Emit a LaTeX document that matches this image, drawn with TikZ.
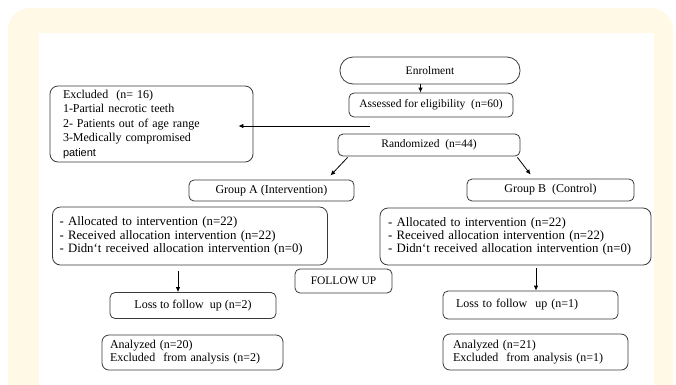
\documentclass[tikz,border=0pt]{standalone}
\usepackage{fontspec}
\setmainfont{Liberation Serif}
\newfontfamily\sansf{Liberation Sans}
\usetikzlibrary{arrows.meta}
\definecolor{cream}{HTML}{FFF9E6}
\definecolor{edge}{HTML}{3A3A3A}
\begin{document}
\begin{tikzpicture}[x=1pt,y=-1pt,
  box/.style={draw=edge, line width=0.8pt, rounded corners=5pt, inner sep=0pt,
    font=\fontsize{11.5}{13}\selectfont, align=center},
  arr/.style={draw=black, line width=0.8pt, -{Latex[length=5pt,width=4.5pt]}}]
\useasboundingbox (0,0) rectangle (676,384);
\clip (0,0) rectangle (676,384);
\fill[white] (0,0) rectangle (676,384);
\fill[cream, rounded corners=22pt] (8,8) rectangle (673,420);
\fill[white] (39,33) rectangle (654,400);

\node[box, rounded corners=13pt, minimum width=180pt, minimum height=27pt] (enrol) at (430,70.5) {Enrolment};
\node[box, minimum width=164pt, minimum height=24pt] (assess) at (431,105) {Assessed for eligibility\ \ (n=60)};
\node[box, rounded corners=8pt, text width=177pt, inner xsep=13pt, align=left, minimum height=76pt,
  font=\fontsize{12}{14.5}\selectfont] (excl) at (151.5,124)
  {Excluded\ \ (n= 16)\\1-Partial\ necrotic teeth\\2- Patients out of age range\\3-Medically\ compromised\\{\sansf\fontsize{11}{14.5}\selectfont patient}};
\node[box, minimum width=182pt, minimum height=22pt] (rand) at (429,145) {Randomized\ \ (n=44)};
\node[box, font=\fontsize{12}{13}\selectfont, minimum width=165pt, minimum height=21pt] (ga) at (271.5,190.5) {Group\ A (Intervention)};
\node[box, font=\fontsize{12}{13}\selectfont, minimum width=167pt, minimum height=22pt] (gb) at (550.5,190) {Group\ B\ \ (Control)};
\node[box, rounded corners=8pt, text width=261pt, inner xsep=7pt, align=left, minimum height=58pt,
  font=\fontsize{12.8}{13.3}\selectfont] (alla) at (190,236)
  {- Allocated to intervention (n=22)\\- Received allocation intervention (n=22)\\- Didn`t received allocation intervention (n=0)\\[2pt]};
\node[box, rounded corners=8pt, text width=255pt, inner xsep=8pt, align=left, minimum height=57pt,
  font=\fontsize{12.8}{13.3}\selectfont] (allb) at (515.5,236.5)
  {- Allocated to intervention (n=22)\\- Received allocation intervention (n=22)\\- Didn`t received allocation intervention (n=0)\\[2pt]};
\node[box, minimum width=97pt, minimum height=24pt] (fu) at (343.5,281) {FOLLOW UP};
\node[box, font=\fontsize{12}{13}\selectfont, minimum width=166pt, minimum height=26pt] (la) at (193,305.5) {Loss to follow\ \ up (n=2)};
\node[box, font=\fontsize{12}{13}\selectfont, text width=149pt, inner xsep=13pt, align=left, minimum height=28pt] (lb) at (530.5,305) {Loss to follow\ \ up (n=1)};
\node[box, rounded corners=7pt, text width=165pt, inner xsep=8pt, align=left, minimum height=35pt,
  font=\fontsize{12}{13}\selectfont] (ana) at (192.5,352.5) {Analyzed (n=20)\\Excluded\ \ from analysis (n=2)};
\node[box, rounded corners=7pt, text width=165pt, inner xsep=10pt, align=left, minimum height=36pt,
  font=\fontsize{12}{13}\selectfont] (anb) at (535.5,352) {Analyzed (n=21)\\Excluded\ \ from analysis (n=1)};

\draw[arr] ([xshift=-9.5pt]enrol.south) -- ([xshift=-9.5pt]assess.north -| enrol.south);
\coordinate (hs) at (370,126);
\coordinate (ht) at ([xshift=-15pt]excl.east |- hs);
\draw[arr] (hs) -- (ht);
\draw[arr] ([xshift=10pt,yshift=-1pt]rand.south west) -- ([xshift=-24pt,yshift=4pt]ga.north east);
\draw[arr] ([xshift=-3pt,yshift=-1pt]rand.south east) -- ([xshift=64pt,yshift=4pt]gb.north west);
\coordinate (aa) at ([xshift=-12pt,yshift=-6pt]alla.south);
\draw[arr] (aa) -- (aa |- la.north);
\coordinate (bb) at ([xshift=20.5pt,yshift=-3pt]allb.south);
\draw[arr] (bb) -- (bb |- lb.north);
\end{tikzpicture}
\end{document}
